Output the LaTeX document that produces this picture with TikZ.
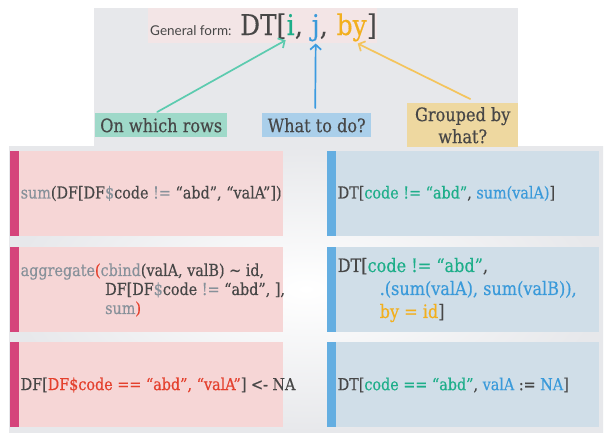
\documentclass[tikz,border=0pt]{standalone}
\usepackage{fontspec}
\usetikzlibrary{arrows.meta,calc}
\newfontfamily\slab[FakeStretch=0.87,FakeBold=0.4]{DejaVu Serif}
\newfontfamily\sansf{Lato}
\definecolor{dk}{HTML}{474747}
\definecolor{cgry}{HTML}{87919A}
\definecolor{cred}{HTML}{E4402D}
\definecolor{cteal}{HTML}{1DAE89}
\definecolor{cblue}{HTML}{3A9ADA}
\definecolor{corange}{HTML}{F2AF1E}
\definecolor{pinkbg}{HTML}{F6D6D6}
\definecolor{pinkbarc}{HTML}{D5447B}
\definecolor{bluebg}{HTML}{D0DEE8}
\definecolor{bluebarc}{HTML}{64AEE1}
\definecolor{panel}{HTML}{E7E8EB}
\definecolor{gfbg}{HTML}{F3E5E6}
\definecolor{lteal}{HTML}{9FD9C9}
\definecolor{lblue}{HTML}{AACFEA}
\definecolor{lorange}{HTML}{EED8A0}
\definecolor{ateal}{HTML}{5CCBAF}
\definecolor{ablue}{HTML}{3B9BE0}
\definecolor{aorange}{HTML}{F4C45C}
\newcommand{\Kgr}[1]{\textcolor{cgry}{#1}}
\newcommand{\Kred}[1]{\textcolor{cred}{#1}}
\newcommand{\Kteal}[1]{\textcolor{cteal}{#1}}
\newcommand{\Kblue}[1]{\textcolor{cblue}{#1}}
\newcommand{\Korg}[1]{\textcolor{corange}{#1}}
\begin{document}
\begin{tikzpicture}[x=1pt,y=-1pt,
  lbar/.style={fill=pinkbarc, anchor=north west, inner sep=0, outer sep=0, minimum width=9pt, minimum height=85pt},
  lbox/.style={fill=pinkbg, anchor=north west, inner sep=0, outer sep=0, minimum width=264pt, minimum height=85pt},
  rbar/.style={fill=bluebarc, anchor=north west, inner sep=0, outer sep=0, minimum width=9pt, minimum height=85pt},
  rbox/.style={fill=bluebg, anchor=north west, inner sep=0, outer sep=0, minimum width=263pt, minimum height=85pt},
  code/.style={anchor=west, inner sep=0, font=\slab\fontsize{16.5}{19}\selectfont, text=dk, align=left},
  big/.style={anchor=base west, inner sep=0, font=\slab\fontsize{28.5}{30}\selectfont, text=dk},
  lab/.style={inner sep=0, font=\slab\fontsize{18.5}{22}\selectfont, text=dk, anchor=north west, align=center},
  arr/.style={line width=1.7pt, line cap=round, -{Straight Barb[length=5pt,width=11pt]}}]
\useasboundingbox[fill=white] (0,0) rectangle (607,432);
% backgrounds
\fill[panel] (94,8) rectangle (518,146);
\shade[inner color=white, outer color=panel] (9,146) rectangle (603,432);
% general form
\node[fill=gfbg, anchor=north west, inner sep=0, minimum width=229pt, minimum height=35pt] (gfbox) at (148,8) {};
\node[anchor=base west, inner sep=0, font=\sansf\fontsize{13.5}{15}\selectfont, text=dk] (gf) at (150,35) {General form:};
\node[big] (dt) at (240,35) {DT[};
\node[big, text=cteal] (ni) at (dt.base east) {i};
\node[big] (c1) at (ni.base east) {,\kern0.3em};
\node[big, text=cblue] (nj) at (c1.base east) {j};
\node[big] (c2) at (nj.base east) {,\kern0.3em};
\node[big, text=corange] (nby) at (c2.base east) {by};
\node[big] (br) at (nby.base east) {]};
% labels
\node[lab, fill=lteal, minimum width=132pt, minimum height=24pt] (rows) at (95,113) {On which rows};
\node[lab, fill=lblue, minimum width=109pt, minimum height=24pt] (what) at (262,113) {What to do?};
\node[lab, fill=lorange, minimum width=111pt, minimum height=44pt] (grp) at (407,103) {Grouped by\\what?};
% arrows
\draw[arr, ateal] ($(rows.north)+(-4,-1)$) -- ($(ni.south)+(-5,5)$);
\draw[arr, ablue] ($(what.north)+(-1.5,-5)$) -- ($(nj.south)+(0,2)$);
\draw[arr, aorange] ($(grp.north)+(7.5,-4)$) -- ($(nby.south)+(6,2)$);
% left column
\node[lbar] (lb1) at (10,151) {};
\node[lbox] (lx1) at (19,151) {};
\node[lbar] (lb2) at (10,247) {};
\node[lbox] (lx2) at (19,247) {};
\node[lbar] (lb3) at (10,342) {};
\node[lbox] (lx3) at (19,342) {};
% right column
\node[rbar] (rb1) at (327,151) {};
\node[rbox] (rx1) at (336,151) {};
\node[rbar] (rb2) at (327,247) {};
\node[rbox] (rx2) at (336,247) {};
\node[rbar] (rb3) at (327,342) {};
\node[rbox] (rx3) at (336,342) {};
% texts
\node[code] (t1) at (20.5,193.5) {\Kgr{sum}(DF[DF\Kgr{\$}code \Kgr{!=} “abd”, “valA”])};
\node[code] (t2) at (20.5,290) {\Kgr{aggregate}\Kred{(}\Kgr{cbind}(valA, valB) \textasciitilde{} id,\\ \hspace*{84.5pt}DF[DF\Kgr{\$}code \Kgr{!=} “abd”, ],\\ \hspace*{84.5pt}\Kgr{sum}\Kred{)}};
\node[code] (t3) at (20.5,385) {DF[\Kred{DF\$code == “abd”, “valA”}] <- NA};
\node[code] (u1) at (337.5,193.5) {DT[\Kteal{code != “abd”}, \Kblue{sum(valA)}]};
\node[code, font=\slab\fontsize{18.5}{23}\selectfont] (u2) at (337.5,290) {DT[\Kteal{code != “abd”},\\ \hspace*{42pt}\Kblue{.(sum(valA), sum(valB)),}\\ \hspace*{42pt}\Korg{by = id}]};
\node[code] (u3) at (337.5,385) {DT[\Kteal{code == “abd”}, \Kblue{valA} := \Kblue{NA}]};
\end{tikzpicture}
\end{document}
